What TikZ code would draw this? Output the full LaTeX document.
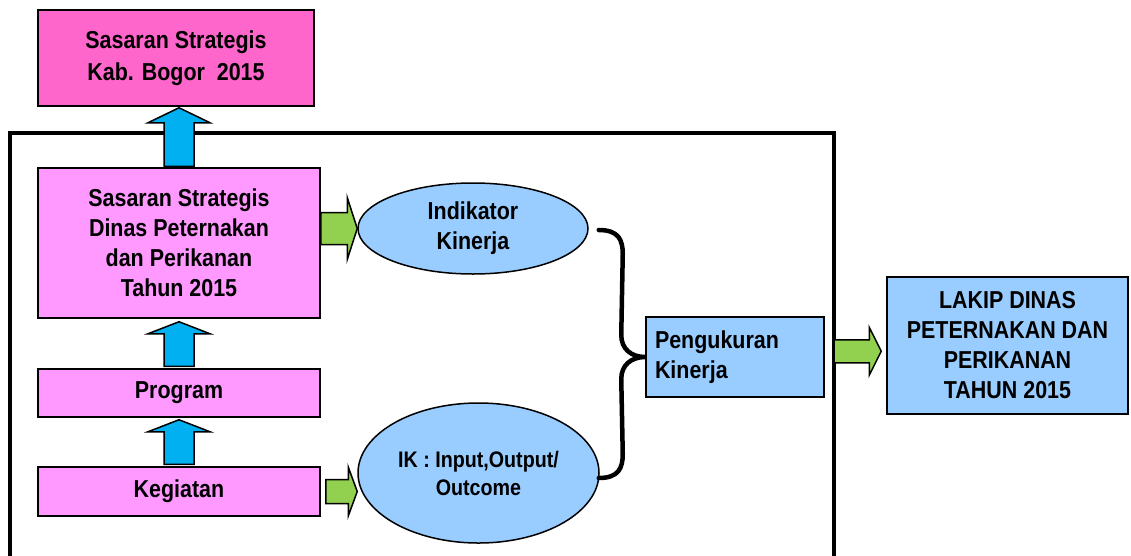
\documentclass[tikz,border=0pt]{standalone}
\usepackage{fontspec}
\setmainfont{Liberation Sans}[FakeStretch=0.875]
\usetikzlibrary{shapes.geometric,calc}
\definecolor{kabpink}{HTML}{FF66CC}
\definecolor{sspink}{HTML}{FF99FF}
\definecolor{birumuda}{HTML}{99CCFF}
\definecolor{panahbiru}{HTML}{00B0F0}
\definecolor{panahhijau}{HTML}{92D050}
\begin{document}
\begin{tikzpicture}[x=1pt,y=-1pt]
 \tikzstyle{kotak}=[draw,line width=1.5pt,inner sep=0pt,align=center,font=\bfseries\fontsize{24.5}{30}\selectfont]
 \tikzstyle{lonjong}=[kotak,ellipse]
 \tikzstyle{bingkai}=[line width=4pt,line join=miter]
 \tikzstyle{kurung}=[line width=4.5pt,line cap=round]
 \tikzset{naik/.style n args={3}{draw,line width=1.5pt,fill=panahbiru,
   to path={let \p1=(\tikztostart), \p2=(\tikztotarget) in
   (\x1-#1,\y1) -- (\x1-#1,\y2-#3) -- (\x1-#2,\y2-#3) -- (\x1,\y2) -- (\x1+#2,\y2-#3) -- (\x1+#1,\y2-#3) -- (\x1+#1,\y1) -- cycle}},
  kanan/.style n args={3}{draw,line width=1.5pt,fill=panahhijau,
   to path={let \p1=(\tikztostart), \p2=(\tikztotarget) in
   (\x1,\y1+#1) -- (\x2-#3,\y1+#1) -- (\x2-#3,\y1+#2) -- (\x2,\y1) -- (\x2-#3,\y1-#2) -- (\x2-#3,\y1-#1) -- (\x1,\y1-#1) -- cycle}}}
 \useasboundingbox (0,0) rectangle (1131,555);
 \coordinate (fl) at (10,565);
 \coordinate (fr) at (834,565);
 \draw[bingkai] (fl) |- (834,133) -- (fr);
 \node[kotak,fill=kabpink,minimum width=276pt,minimum height=96pt,font=\bfseries\fontsize{24.5}{32}\selectfont] (kab) at (176,58) {Sasaran Strategis\\Kab. Bogor~~2015};
 \node[kotak,fill=sspink,minimum width=282pt,minimum height=150pt] (ss) at (179,243) {Sasaran Strategis\\Dinas Peternakan\\dan Perikanan\\Tahun 2015};
 \node[kotak,fill=sspink,minimum width=282pt,minimum height=48pt] (prog) at (179,393) {Program};
 \node[kotak,fill=sspink,minimum width=282pt,minimum height=49pt] (keg) at (179,491.5) {Kegiatan};
 \node[lonjong,fill=birumuda,minimum width=230pt,minimum height=91pt] (ik) at (473,228.5) {Indikator\\Kinerja};
 \node[lonjong,fill=birumuda,minimum width=241pt,minimum height=140pt,font=\bfseries\fontsize{22.5}{28}\selectfont] (iko) at (478.5,473) {IK : Input,Output/\\Outcome};
 \node[kotak,fill=birumuda,text width=160pt,align=left,inner xsep=9pt,minimum height=80pt] (pk) at (735,357) {Pengukuran\\Kinerja};
 \node[kotak,fill=birumuda,minimum width=241pt,minimum height=137pt] (lakip) at (1007.5,345.5) {LAKIP DINAS\\PETERNAKAN DAN\\PERIKANAN\\TAHUN 2015};
 \coordinate (lk) at ($(pk.east)!0.5!(lakip.west)$);
 \coordinate (bt) at ($(ik.east)+(10,1.5)$);
 \coordinate (bb) at ($(iko.east)+(-1,5)$);
 \draw[naik={15pt}{31pt}{15pt}] ([yshift=1pt]ss.north) to ([yshift=-1pt]kab.south);
 \draw[naik={15pt}{31pt}{12pt}] ([yshift=2pt]prog.north) to ([yshift=-3pt]ss.south);
 \draw[naik={15pt}{31pt}{12pt}] ([yshift=2pt]keg.north) to ([yshift=-2pt]prog.south);
 \draw[kanan={16pt}{31pt}{10pt}] (ss.east |- ik.west) to (ik.west);
 \draw[kanan={12pt}{24.5pt}{9pt}] ([xshift=5pt]keg.east) to (iko.west |- keg.east);
 \draw[kanan={11.5pt}{24pt}{12pt}] (fr |- lk) to ([xshift=-5pt]lakip.west |- lk);
 \draw[kurung] (bt) .. controls +(20,0) and +(0,-14) .. ($(bt)+(24,24)$) -- ($(pk.west)+(-24,-22)$)
  .. controls +(0,14) and +(-14,0) .. (pk.west) .. controls +(-14,0) and +(0,-14) .. ($(pk.west)+(-24,22)$)
  -- ($(bb)+(24,-24)$) .. controls +(0,14) and +(20,0) .. (bb);
\end{tikzpicture}
\end{document}
